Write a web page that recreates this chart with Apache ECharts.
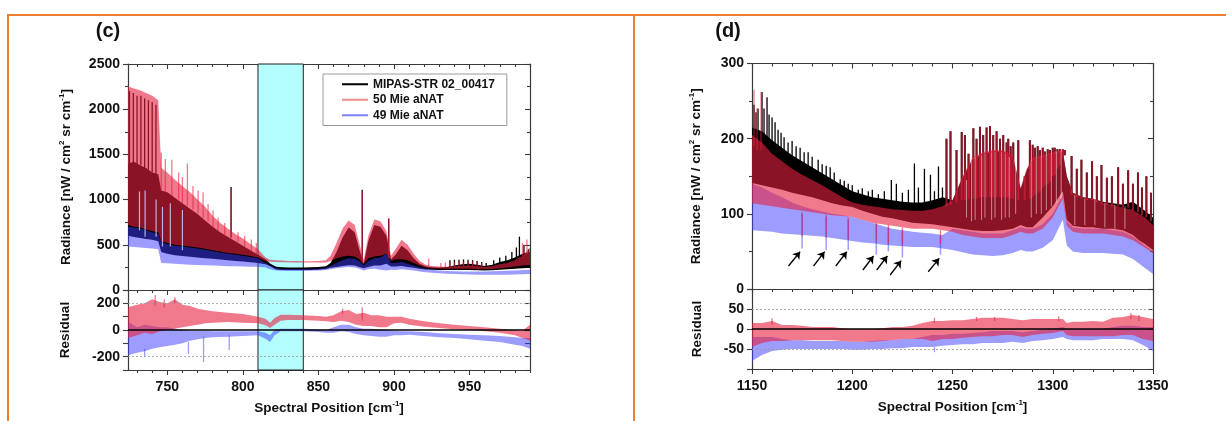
<!DOCTYPE html>
<html><head><meta charset="utf-8">
<script src="https://cdn.jsdelivr.net/npm/echarts@6/dist/echarts.min.js"></script>
<style>html,body{margin:0;padding:0;background:#fff}#chart{width:1226px;height:421px}</style>
</head><body><div id="chart"></div>
<script>
// ---------------- Panel (c) : radiance envelopes ----------------
const c_wn = [724,728,732,736,740,744,746,750,755,760,765,770,775,780,785,790,795,800,805,810,815,818,822,826,830,835,840,845,850,855,858,862,866,870,874,877,880,883,887,891,895,898,901,905,909,913,917,921,925,930,935,940,945,950,955,960,965,970,975,980,985,990];
const c_blackLo = [600,585,575,565,555,540,420,400,385,375,368,360,352,345,338,330,322,315,308,300,285,262,228,222,220,220,220,221,224,232,245,255,265,275,270,255,240,255,270,270,290,260,260,265,255,245,235,228,225,222,220,220,220,220,218,215,218,225,230,235,240,245];
const c_blackHi = [1400,1420,1380,1350,1300,1280,1100,1080,1020,960,900,840,770,700,640,590,540,490,440,390,340,292,258,252,250,250,250,252,255,262,300,420,580,690,640,450,290,540,720,700,600,340,390,490,440,350,290,262,252,250,255,270,285,290,280,265,280,310,330,360,400,420];
const c_redLo = [720,700,690,670,650,640,540,520,500,490,480,470,455,440,425,410,400,390,375,360,318,312,310,308,306,305,304,303,303,305,320,350,370,380,370,340,290,350,370,380,400,320,340,340,330,300,270,250,240,238,236,235,235,235,232,230,232,240,250,260,270,280];
const c_redHi = [2250,2230,2210,2180,2150,2100,1350,1300,1220,1150,1080,1000,920,820,740,680,620,570,510,450,360,335,330,325,322,320,318,318,320,330,380,520,680,770,720,520,330,600,780,760,650,380,450,555,500,400,320,280,265,260,258,262,268,270,265,255,265,285,300,330,380,470];
const c_blueLo = [480,475,470,465,458,450,300,295,290,285,280,277,273,270,267,264,262,260,258,256,250,230,215,212,210,210,210,212,215,222,230,240,250,255,250,235,215,230,235,225,215,225,220,230,225,215,205,195,190,185,180,178,175,172,170,168,168,168,170,172,175,178];
const c_blueHi = [700,690,680,660,640,620,530,510,490,480,470,460,445,430,415,400,390,380,365,350,300,270,240,232,230,230,230,232,235,245,265,300,330,350,345,320,270,320,350,360,400,300,300,310,290,270,250,235,225,215,210,208,205,205,205,205,208,210,212,215,220,225];
// spectral lines [wavenumber, base, peak]
const c_blackSpikes = [[725,1400,2200],[727.5,1400,2180],[730,1380,2150],[732.5,1380,2150],[735,1350,2120],[737.5,1330,2100],[740,1300,2080],[742.5,1280,2050],[792.2,580,1140],[879,300,1110],[896.5,350,790],[937,255,330],[940,260,335],[943,262,335],[946,265,338],[949,265,335],[952,265,330],[955,262,320],[958,260,310],[961,255,300],[966,270,330],[970,290,360],[974,300,380],[978,320,420],[981,340,470],[983,360,590],[986,380,500],[989,380,450]];
const c_redSpikes = [[746,1100,1520],[748.7,1080,1450],[753,1040,1440],[757.5,1000,1300],[760,960,1250],[763.3,930,1400],[767,890,1150],[770.4,850,1100],[773.7,800,1080],[777,760,950],[780.3,700,880],[783.6,650,800],[788,600,740],[792.2,580,1130],[796.8,530,640],[801.2,480,600],[805.6,430,560],[808.9,400,520],[879,300,1100],[896.5,350,790],[923,260,345],[931,255,300],[934,255,305],[937,255,310],[940,255,315],[943,260,318],[946,262,320],[949,262,322],[952,262,318],[955,262,312],[958,258,300],[985,380,520],[988,400,560]];
const c_gaps = [[731.6,660,1090],[735.3,590,1100],[742.6,590,1000],[746.8,480,920],[752,480,960],[760,440,885]];
const c_window = [810, 840];
// ---------------- Panel (c) : residuals ----------------
const c_rwn = [724,730,735,740,745,750,755,760,765,770,775,780,790,800,810,815,818,821,825,830,840,850,855,860,865,870,875,880,885,890,895,900,905,910,920,930,940,950,960,970,980,985,990];
const c_resRedLo = [-60,-40,-20,-30,-10,0,10,20,30,40,50,55,60,55,50,35,15,40,70,75,75,70,65,60,70,60,40,30,30,20,20,50,55,40,25,15,5,0,-10,-20,-40,-60,-80];
const c_resRedHi = [170,190,200,230,210,200,230,190,180,160,150,140,130,120,100,85,55,90,115,115,110,105,100,110,140,150,120,130,110,110,100,100,100,85,65,50,40,30,20,10,0,-5,40];
const c_resBlueLo = [-190,-170,-160,-140,-130,-120,-110,-100,-80,-70,-60,-55,-50,-45,-40,-65,-90,-40,-10,-10,-10,-15,-20,-20,-10,-15,-30,-40,-45,-50,-50,-40,-40,-35,-45,-55,-60,-70,-80,-90,-110,-120,-140];
const c_resBlueHi = [60,20,40,30,20,20,10,0,-5,-5,-5,-10,-10,-10,-10,-20,-40,0,10,10,10,5,0,20,40,40,20,10,10,5,0,-5,-10,-10,-15,-25,-30,-35,-40,-45,-55,-60,-60];
const c_resRedSpikes = [[742,180,262],[748,170,230],[755,200,245],[866,120,160],[879,70,170]];
const c_resBlueSpikes = [[735,-140,-200],[764,-90,-180],[774,-50,-240],[791,-40,-150]];
// ---------------- Panel (d) : radiance envelopes ----------------
const d_wn = [1150,1155,1160,1165,1170,1175,1180,1185,1190,1195,1200,1205,1210,1215,1220,1225,1230,1235,1240,1245,1250,1255,1260,1265,1270,1275,1280,1284,1287,1290,1295,1300,1305,1307,1310,1315,1320,1325,1330,1335,1340,1343,1346,1350];
const d_blackLo = [141,138,135,132,128,125,122,118,114,111,109,104,100,96,94,91,88,87,86,84,82,80,78,77,77,78,80,85,82,82,95,110,130,92,84,82,82,80,80,78,72,65,60,52];
const d_blackHi = [215,210,198,188,178,170,162,154,146,138,130,126,122,120,118,116,115,115,118,122,118,148,172,180,183,183,176,133,158,173,176,180,183,150,128,122,120,116,114,112,116,110,104,95];
const d_redLo = [114,112,110,108,106,104,102,100,98,97,96,92,88,86,84,82,80,80,80,78,76,72,70,68,68,68,72,76,74,74,80,95,120,84,76,74,74,74,72,70,65,60,55,48];
const d_redHi = [205,195,180,170,160,152,145,138,130,122,115,112,110,108,106,105,104,104,106,110,118,150,175,182,185,185,178,135,160,175,178,182,185,150,128,122,120,115,112,108,105,100,95,85];
const d_blueLo = [78,77,76,74,73,72,71,70,68,66,64,62,61,59,58,57,56,56,56,54,52,49,46,45,44,45,48,52,50,50,55,65,92,58,50,48,48,48,47,46,40,34,28,20];
const d_blueHi = [140,135,128,122,115,110,106,103,100,98,96,92,88,84,80,78,76,75,74,72,80,78,76,74,74,74,78,82,80,80,86,100,125,90,82,80,80,80,78,76,70,64,58,50];
const d_blackSpikes = [[1151,200,245],[1152,200,235],[1153,195,240],[1155,190,262],[1156,190,240],[1157.5,185,255],[1158.5,185,232],[1160,180,228],[1161.5,180,222],[1163,175,212],[1164.5,175,208],[1166,170,202],[1168,168,195],[1170,165,197],[1172,163,190],[1174,160,188],[1176,158,182],[1178,155,182],[1180,152,176],[1183,148,172],[1185,146,166],[1187,144,164],[1189,140,162],[1191,138,155],[1194,132,146],[1196,130,144],[1198,126,140],[1200,124,138],[1203,122,132],[1205,122,134],[1208,120,130],[1210,118,132],[1213,116,126],[1216,116,130],[1219.5,112,145],[1222,112,140],[1225,112,128],[1228,110,132],[1231,108,167],[1233,108,135],[1236,108,160],[1239,108,152],[1241,108,130],[1243,108,163],[1245,110,135]];
const d_redSpikes = [[1151,190,265],[1152.5,185,240],[1154.5,185,262]];
const d_sharedSpikes = [[1247,110,200],[1249,112,210],[1252,115,185],[1254.6,118,209],[1256.2,118,205],[1258,120,180],[1260.4,120,214],[1262,120,200],[1263.7,122,216],[1265.3,122,205],[1267,122,215],[1268.7,122,217],[1270.3,122,205],[1272,122,210],[1273.7,122,200],[1275.3,122,205],[1277,122,195],[1277.8,122,200],[1279,120,190],[1280.3,120,195],[1282.8,118,198],[1286,118,150],[1288.6,120,198],[1290,122,192],[1291.1,125,188],[1292.5,128,190],[1293.6,130,185],[1295,135,188],[1296.1,138,183],[1297.5,140,186],[1298.6,143,185],[1300,150,188],[1301,152,188],[1302.3,160,186],[1303.5,165,186],[1305,175,186],[1306,178,185],[1309.4,125,177],[1312,122,160],[1314.3,120,172],[1317,118,155],[1319.6,118,170],[1322,115,150],[1324.3,112,165],[1327,112,148],[1329.5,110,150],[1332.6,110,162],[1335,108,140],[1337.6,108,158],[1340,104,140],[1342.5,102,155],[1344.5,98,135],[1346.7,95,150],[1349,90,128]];
const d_gaps = [[1257,95,145],[1259.5,90,170],[1261.3,92,175],[1264.5,92,178],[1266.2,95,180],[1269.5,92,182],[1271.2,95,182],[1274.5,92,182],[1276.3,95,180],[1278.3,95,176],[1281.5,100,170],[1289.3,95,172],[1291.8,100,175],[1294.3,100,177],[1296.8,105,179],[1299.3,110,181],[1301.8,115,183],[1304.2,120,184],[1311,85,125],[1316,85,120],[1321,85,120],[1326,82,115],[1331,80,112],[1336,80,110]];
const d_blueDips = [[1175,100,54],[1187,96,52],[1198,92,52],[1212,86,46],[1218,82,50],[1225,78,42],[1244,72,46]];
const d_redDips = [[1175,102,70],[1187,99,68],[1198,95,66],[1212,88,62],[1218,85,60],[1225,82,58],[1244,78,60]];
// arrows [x0, y0, x1, y1] in data units
const d_arrows = [[1168.2,30.6,1174.0,49.6],[1180.7,30.6,1186.2,49.6],[1191.8,30.6,1197.3,49.6],[1205.3,25.3,1210.6,43.9],[1212.2,25.3,1217.5,43.9],[1218.9,18.6,1224.4,37.7],[1237.9,23,1243.4,40.8]];
// ---------------- Panel (d) : residuals ----------------
const d_rwn = [1150,1155,1160,1165,1170,1175,1180,1185,1190,1195,1200,1205,1210,1215,1220,1225,1230,1235,1240,1245,1250,1255,1260,1265,1270,1275,1280,1285,1290,1295,1300,1305,1307,1310,1315,1320,1325,1330,1335,1340,1345,1350];
const d_resRedLo = [-45,-35,-30,-30,-28,-28,-28,-28,-28,-30,-32,-32,-32,-30,-28,-25,-25,-25,-30,-25,-25,-22,-20,-18,-18,-15,-15,-20,-15,-12,-10,-5,-15,-18,-18,-18,-18,-18,-15,-15,-25,-30];
const d_resRedHi = [15,15,20,10,10,8,5,5,5,2,0,0,0,2,5,5,8,15,20,20,22,22,25,28,28,28,25,22,25,25,25,25,15,18,18,20,18,28,30,35,30,25];
const d_resBlueLo = [-80,-65,-55,-52,-50,-50,-50,-50,-50,-50,-52,-52,-50,-50,-48,-48,-45,-45,-45,-42,-40,-38,-38,-35,-35,-35,-32,-35,-30,-28,-25,-20,-25,-28,-28,-28,-25,-25,-25,-28,-40,-55];
const d_resBlueHi = [-20,-20,-20,-25,-28,-28,-30,-30,-30,-30,-32,-32,-30,-28,-28,-25,-25,-20,-15,-15,-12,-12,-10,-8,-5,-5,-5,-8,-5,-2,0,5,0,0,0,0,0,5,8,8,5,5];
const d_resRedSpikes = [[1160,10,27],[1241,15,28],[1262,20,30],[1271,20,30],[1303,20,32],[1339,25,40],[1343,20,35]];
const d_resBlueSpikes = [[1150,-60,-85],[1241,-45,-58]];
// ---------------- axis ticks ----------------
const c_xTicks = [750,800,850,900,950];
const d_xTicks = [1150,1200,1250,1300,1350];
const c_resLabels = [-200,0,200];
const d_resLabels = [-50,0,50];

const NAMES = ['MIPAS-STR 02_00417','50 Mie aNAT','49 Mie aNAT'];
const FONT = '"Liberation Sans", Arial, Helvetica, sans-serif';
const AX = '#3a3a3a';
const BLACK = '#000000';
const RED = 'rgba(230,32,62,0.6)';
const BLUE = 'rgba(60,60,255,0.5)';

function minorTicks(min, max, major) {
  const out = [];
  for (let v = Math.ceil(min / 10) * 10; v <= max; v += 10) if (major.indexOf(v) < 0) out.push(v);
  return out;
}
function band(name, xi, yi, wn, lo, hi, color, z) {
  return {
    type: 'custom', name, xAxisIndex: xi, yAxisIndex: yi, z, silent: true, clip: true,
    data: wn.map((x, i) => [x, lo[i], hi[i]]), encode: {x: 0, y: [1, 2]},
    renderItem: (params, api) => {
      if (params.dataIndex !== 0) return null;
      const pts = [];
      for (let i = 0; i < wn.length; i++) pts.push(api.coord([wn[i], hi[i]]));
      for (let i = wn.length - 1; i >= 0; i--) pts.push(api.coord([wn[i], lo[i]]));
      return {type: 'polygon', shape: {points: pts}, style: {fill: color}};
    }
  };
}
function lines(name, xi, yi, list, color, width, z) {
  return {
    type: 'custom', name, xAxisIndex: xi, yAxisIndex: yi, z, silent: true, clip: true,
    data: list, encode: {x: 0, y: [1, 2]},
    renderItem: (params, api) => {
      const a = api.coord([api.value(0), api.value(1)]);
      const b = api.coord([api.value(0), api.value(2)]);
      return {type: 'line', shape: {x1: a[0], y1: a[1], x2: b[0], y2: b[1]}, style: {stroke: color, lineWidth: width}};
    }
  };
}
const plain = v => String(v);
const labelStyle = {fontFamily: FONT, fontWeight: 'bold', fontSize: 14, color: '#111'};
const nameStyle = {fontFamily: FONT, fontWeight: 'bold', fontSize: 13.5, color: '#111',
  rich: {sup: {fontFamily: FONT, fontWeight: 'bold', fontSize: 8, color: '#111', verticalAlign: 'top', lineHeight: 16}}};

function xAxes(gUp, gRes, min, max, major) {
  const minor = minorTicks(min, max, major);
  const line = {show: true, onZero: false, lineStyle: {color: AX, width: 1.2}};
  const noLine = {show: false, onZero: false};
  const base = {type: 'value', min, max, splitLine: {show: false}, axisLabel: {show: false}};
  const tick = (vals, inside, len) => ({show: true, inside, length: len, customValues: vals, lineStyle: {color: AX, width: 1.1}});
  return [
    Object.assign({}, base, {gridIndex: gUp, position: 'bottom', axisLine: line, axisTick: {show: false}}),
    Object.assign({}, base, {gridIndex: gUp, position: 'top', axisLine: line, axisTick: tick(major, true, 5)}),
    Object.assign({}, base, {gridIndex: gUp, position: 'top', axisLine: noLine, axisTick: tick(minor, true, 3)}),
    Object.assign({}, base, {gridIndex: gRes, position: 'bottom', axisLine: line, axisTick: tick(major, false, 5),
      axisLabel: Object.assign({show: true, margin: 10, customValues: major, formatter: plain}, labelStyle),
      name: 'Spectral Position [cm{sup|-1}]', nameLocation: 'middle', nameGap: 30, nameTextStyle: nameStyle, nameMoveOverlap: false}),
    Object.assign({}, base, {gridIndex: gRes, position: 'bottom', axisLine: noLine, axisTick: tick(minor, false, 3)}),
    Object.assign({}, base, {gridIndex: gRes, position: 'top', axisLine: line, axisTick: tick(major, true, 5)}),
    Object.assign({}, base, {gridIndex: gRes, position: 'top', axisLine: noLine, axisTick: tick(minor, true, 3)})
  ];
}
function yAxes(gUp, gRes, upMax, upInt, resMin, resMax, resInt, resLabels, gapUp, gapRes) {
  const line = {show: true, onZero: false, lineStyle: {color: AX, width: 1.2}};
  const tk = (inside) => ({show: true, inside, length: 5, lineStyle: {color: AX, width: 1.1}});
  const mt = {show: true, splitNumber: 2, length: 3, lineStyle: {color: AX, width: 1.1}};
  return [
    {type: 'value', gridIndex: gUp, min: 0, max: upMax, interval: upInt, position: 'left', axisLine: line, axisTick: tk(false), minorTick: mt,
      splitLine: {show: false}, axisLabel: Object.assign({margin: 8, formatter: plain}, labelStyle),
      name: 'Radiance [nW / cm{sup|2} sr cm{sup|-1}]', nameLocation: 'middle', nameGap: gapUp, nameRotate: 90, nameTextStyle: nameStyle, nameMoveOverlap: false},
    {type: 'value', gridIndex: gUp, min: 0, max: upMax, interval: upInt, position: 'right', axisLine: line, axisTick: tk(true), minorTick: mt,
      splitLine: {show: false}, axisLabel: {show: false}},
    {type: 'value', gridIndex: gRes, min: resMin, max: resMax, interval: resInt, position: 'left', axisLine: line, axisTick: tk(false),
      splitLine: {show: false},
      axisLabel: Object.assign({margin: 8, formatter: v => resLabels.indexOf(v) >= 0 ? String(v) : ''}, labelStyle),
      name: 'Residual', nameLocation: 'middle', nameGap: gapRes, nameRotate: 90, nameTextStyle: nameStyle, nameMoveOverlap: false},
    {type: 'value', gridIndex: gRes, min: resMin, max: resMax, interval: resInt, position: 'right', axisLine: line, axisTick: tk(true),
      splitLine: {show: false}, axisLabel: {show: false}}
  ];
}
function holder(xi, yi, x0, extra) {
  return Object.assign({type: 'line', xAxisIndex: xi, yAxisIndex: yi, data: [[x0, 0]], symbol: 'none', showSymbol: false,
    lineStyle: {opacity: 0}, silent: true, z: 1}, extra);
}
function refLines(vals) {
  return {silent: true, symbol: ['none', 'none'], label: {show: false},
    data: [{yAxis: 0, lineStyle: {color: '#000', width: 1.5, type: 'solid'}}].concat(
      vals.map(v => ({yAxis: v, lineStyle: {color: '#9a9a9a', width: 0.8, type: [2, 2]}})))};
}
const cyanArea = {silent: true, itemStyle: {color: '#b4fdfd', borderColor: '#222', borderWidth: 1},
  data: [[{xAxis: c_window[0]}, {xAxis: c_window[1]}]]};

const series = [
  // panel c upper
  holder(0, 0, 724, {markArea: cyanArea}),
  band(NAMES[0], 0, 0, c_wn, c_blackLo, c_blackHi, BLACK, 2),
  lines(NAMES[0], 0, 0, c_blackSpikes, BLACK, 1.3, 2),
  band(NAMES[2], 0, 0, c_wn, c_blueLo, c_blueHi, BLUE, 3),
  band(NAMES[1], 0, 0, c_wn, c_redLo, c_redHi, RED, 4),
  lines(NAMES[1], 0, 0, c_redSpikes, RED, 1.3, 4),
  lines(NAMES[2], 0, 0, c_gaps, 'rgba(205,200,255,0.85)', 1.2, 5),
  // panel c residual
  holder(3, 2, 724, {markArea: cyanArea}),
  band(NAMES[2], 3, 2, c_rwn, c_resBlueLo, c_resBlueHi, BLUE, 3),
  lines(NAMES[2], 3, 2, c_resBlueSpikes, BLUE, 1.3, 3),
  band(NAMES[1], 3, 2, c_rwn, c_resRedLo, c_resRedHi, RED, 4),
  lines(NAMES[1], 3, 2, c_resRedSpikes, RED, 1.3, 4),
  holder(3, 2, 724, {z: 10, markLine: refLines([200, -200])}),
  // panel d upper
  band(NAMES[0], 7, 4, d_wn, d_blackLo, d_blackHi, BLACK, 2),
  lines(NAMES[0], 7, 4, d_blackSpikes, BLACK, 1.3, 2),
  lines(NAMES[0], 7, 4, d_sharedSpikes, BLACK, 2, 2),
  band(NAMES[2], 7, 4, d_wn, d_blueLo, d_blueHi, BLUE, 3),
  lines(NAMES[2], 7, 4, d_blueDips, BLUE, 1.5, 3),
  band(NAMES[1], 7, 4, d_wn, d_redLo, d_redHi, RED, 4),
  lines(NAMES[1], 7, 4, d_redSpikes, RED, 1.3, 4),
  lines(NAMES[1], 7, 4, d_sharedSpikes, RED, 2, 4),
  lines(NAMES[1], 7, 4, d_redDips, RED, 1.3, 4),
  lines(NAMES[1], 7, 4, d_gaps, 'rgba(255,255,255,0.5)', 1, 5),
  holder(7, 4, 1150, {z: 10, markLine: {silent: true, symbol: ['none', 'arrow'], symbolSize: 7, label: {show: false},
    lineStyle: {color: '#000', width: 1.3, type: 'solid'},
    data: d_arrows.map(a => [{coord: [a[0], a[1]]}, {coord: [a[2], a[3]]}])}}),
  // panel d residual
  band(NAMES[2], 10, 6, d_rwn, d_resBlueLo, d_resBlueHi, BLUE, 3),
  lines(NAMES[2], 10, 6, d_resBlueSpikes, BLUE, 1.3, 3),
  band(NAMES[1], 10, 6, d_rwn, d_resRedLo, d_resRedHi, RED, 4),
  lines(NAMES[1], 10, 6, d_resRedSpikes, RED, 1.3, 4),
  holder(10, 6, 1150, {z: 10, markLine: refLines([50, -50])})
];

const option = {
  animation: false,
  backgroundColor: '#fff',
  grid: [
    {left: 128, top: 64, width: 402, height: 226, outerBoundsMode: 'none'},
    {left: 128, top: 290, width: 402, height: 80, outerBoundsMode: 'none'},
    {left: 752, top: 63.5, width: 401, height: 225.5, outerBoundsMode: 'none'},
    {left: 752, top: 289, width: 401, height: 80, outerBoundsMode: 'none'}
  ],
  xAxis: xAxes(0, 1, 724, 990, c_xTicks).concat(xAxes(2, 3, 1150, 1350, d_xTicks)),
  yAxis: yAxes(0, 1, 2500, 500, -300, 300, 100, c_resLabels, 54, 56).concat(yAxes(2, 3, 300, 100, -100, 100, 50, d_resLabels, 48, 48)),
  legend: {
    show: true, orient: 'vertical', left: 323, top: 74, padding: [3, 12, 3, 19], itemGap: 1,
    itemWidth: 26, itemHeight: 2, icon: 'rect', selectedMode: false,
    backgroundColor: '#fff', borderColor: '#9a9a9a', borderWidth: 1, borderRadius: 0,
    textStyle: {fontFamily: FONT, fontWeight: 'bold', fontSize: 12, color: '#111', lineHeight: 14.5},
    data: [
      {name: NAMES[0], itemStyle: {color: '#000000'}},
      {name: NAMES[1], itemStyle: {color: '#f28a8a'}},
      {name: NAMES[2], itemStyle: {color: '#7f7ff8'}}
    ]
  },
  graphic: [
    {type: 'line', silent: true, shape: {x1: 7, y1: 15, x2: 1226, y2: 15}, style: {stroke: '#ED7D31', lineWidth: 2}},
    {type: 'line', silent: true, shape: {x1: 8, y1: 14, x2: 8, y2: 421}, style: {stroke: '#ED7D31', lineWidth: 2}},
    {type: 'line', silent: true, shape: {x1: 634, y1: 14, x2: 634, y2: 421}, style: {stroke: '#ED7D31', lineWidth: 2}},
    {type: 'text', silent: true, x: 108, y: 31, style: {text: '(c)', fontFamily: FONT, fontWeight: 'bold', fontSize: 20, fill: '#111', align: 'center', verticalAlign: 'middle'}},
    {type: 'text', silent: true, x: 728, y: 31, style: {text: '(d)', fontFamily: FONT, fontWeight: 'bold', fontSize: 20, fill: '#111', align: 'center', verticalAlign: 'middle'}}
  ],
  series
};
const chart = echarts.init(document.getElementById('chart'), null, {renderer: 'canvas'});
chart.setOption(option);
</script></body></html>
